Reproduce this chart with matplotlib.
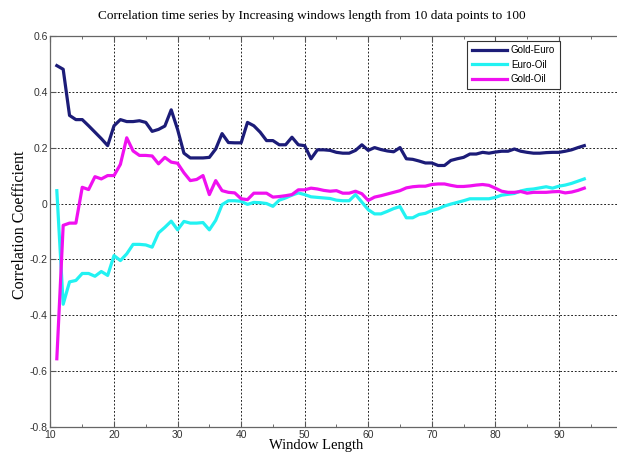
import numpy as np
import matplotlib.pyplot as plt
from matplotlib.ticker import MultipleLocator

# window lengths 11..94
window = np.arange(11, 95)

gold_euro = [0.493, 0.48, 0.315, 0.30, 0.30, 0.278, 0.255, 0.232, 0.207, 0.278,
             0.30, 0.293, 0.293, 0.296, 0.29, 0.258, 0.265, 0.277, 0.335, 0.265,
             0.18, 0.163, 0.163, 0.163, 0.165, 0.195, 0.25, 0.218, 0.217, 0.217,
             0.29, 0.278, 0.255, 0.225, 0.225, 0.21, 0.21, 0.237, 0.21, 0.207,
             0.16, 0.192, 0.192, 0.19, 0.183, 0.18, 0.18, 0.19, 0.21, 0.19,
             0.2, 0.193, 0.188, 0.185, 0.2, 0.16, 0.158, 0.152, 0.145, 0.145,
             0.136, 0.136, 0.154, 0.16, 0.165, 0.177, 0.177, 0.183, 0.18, 0.184,
             0.187, 0.187, 0.195, 0.187, 0.183, 0.18, 0.18, 0.182, 0.183, 0.183,
             0.187, 0.192, 0.2, 0.207]

euro_oil = [0.046, -0.36, -0.28, -0.275, -0.25, -0.25, -0.26, -0.243, -0.257, -0.186,
            -0.204, -0.18, -0.146, -0.146, -0.148, -0.156, -0.105, -0.085, -0.063, -0.094,
            -0.064, -0.07, -0.07, -0.068, -0.094, -0.06, -0.004, 0.01, 0.01, 0.008,
            -0.003, 0.004, 0.003, 0.0, -0.01, 0.012, 0.02, 0.03, 0.038, 0.032,
            0.024, 0.022, 0.02, 0.018, 0.012, 0.01, 0.01, 0.032, 0.005, -0.022,
            -0.037, -0.037, -0.028, -0.018, -0.011, -0.051, -0.051, -0.039, -0.035, -0.025,
            -0.019, -0.009, -0.002, 0.004, 0.01, 0.017, 0.017, 0.017, 0.017, 0.022,
            0.03, 0.033, 0.036, 0.045, 0.05, 0.052, 0.056, 0.06, 0.055, 0.062,
            0.066, 0.072, 0.08, 0.088]

gold_oil = [-0.555, -0.078, -0.07, -0.07, 0.058, 0.05, 0.096, 0.088, 0.1, 0.1,
            0.14, 0.235, 0.188, 0.172, 0.172, 0.17, 0.142, 0.165, 0.148, 0.144,
            0.11, 0.082, 0.086, 0.1, 0.032, 0.082, 0.046, 0.04, 0.038, 0.017,
            0.014, 0.037, 0.037, 0.037, 0.023, 0.025, 0.028, 0.032, 0.049, 0.049,
            0.055, 0.052, 0.047, 0.044, 0.046, 0.037, 0.037, 0.044, 0.035, 0.011,
            0.023, 0.028, 0.034, 0.04, 0.046, 0.056, 0.06, 0.062, 0.062, 0.068,
            0.07, 0.07, 0.065, 0.061, 0.061, 0.063, 0.066, 0.068, 0.065, 0.055,
            0.044, 0.04, 0.04, 0.043, 0.037, 0.04, 0.04, 0.04, 0.042, 0.043,
            0.038, 0.041, 0.047, 0.055]

fig = plt.figure(figsize=(6.17, 4.53), dpi=100)
ax = fig.add_axes([0.0818, 0.0567, 0.927, 0.8645])

ax.plot(window, gold_euro, color='#1c1c78', lw=2.3, label='Gold-Euro')
ax.plot(window, euro_oil, color='#22f2f2', lw=2.3, label='Euro-Oil')
ax.plot(window, gold_oil, color='#f010f0', lw=2.3, label='Gold-Oil')

ax.set_xlim(10, 100)
ax.set_ylim(-0.8, 0.6)
ax.xaxis.set_minor_locator(MultipleLocator(5))
ax.set_xticks(np.arange(10, 100, 10))
ax.set_yticks(np.round(np.arange(-0.8, 0.61, 0.2), 1))
ax.set_yticklabels(['-0.8', '-0.6', '-0.4', '-0.2', '0', '0.2', '0.4', '0.6'])

ax.grid(True, which='major', color='black', linestyle=(0, (2.2, 2.2)), lw=0.6)
ax.tick_params(which='both', direction='in', top=True, right=False,
               labelsize=7.5, labelcolor='#333333', color='#555555', pad=2,
               labelfontfamily='Liberation Sans')
ax.tick_params(which='major', length=4)
ax.tick_params(which='minor', length=2.5)
for s in ax.spines.values():
    s.set_color('#666666')
    s.set_linewidth(0.9)

fig.text(0.505, 0.965, 'Correlation time series by Increasing windows length from 10 data points to 100',
         ha='center', va='center', family='Liberation Serif', fontsize=9.5)
fig.text(0.512, 0.002, 'Window Length', ha='center', va='bottom',
         family='Liberation Serif', fontsize=10.5)
fig.text(0.032, 0.504, 'Correlation Coefficient', ha='center', va='center', rotation=90,
         family='Liberation Serif', fontsize=11.5)

leg = ax.legend(loc='upper left', bbox_to_anchor=(0.72, 1.0), fancybox=False,
                framealpha=1, edgecolor='#333333', handlelength=3.6,
                prop={'family': 'Liberation Sans', 'size': 7}, borderpad=0.5,
                labelspacing=0.45, handletextpad=0.4)
leg.get_frame().set_linewidth(0.8)

fig.savefig('out.png', dpi=100)
